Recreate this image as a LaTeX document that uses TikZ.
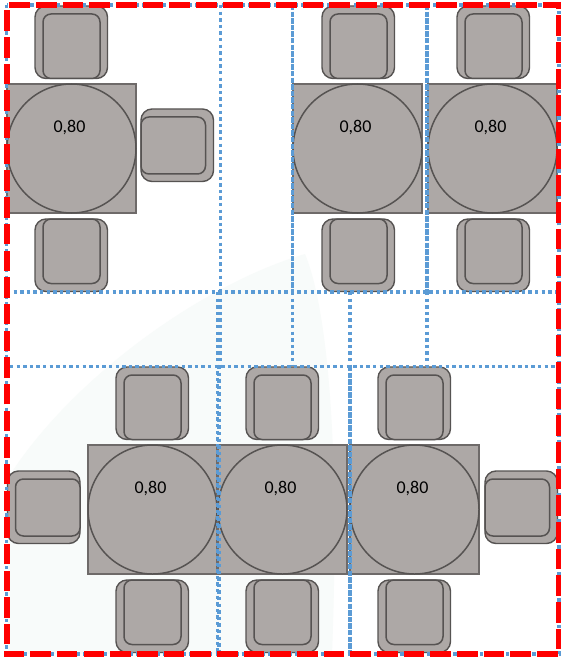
\documentclass[tikz,border=0pt]{standalone}
\usepackage{fontspec}
\setmainfont{Carlito}
\definecolor{furn}{HTML}{ADA8A6}
\definecolor{edge}{HTML}{565352}
\definecolor{tedge}{HTML}{6E6A69}
\definecolor{gridblue}{HTML}{5B9BD5}
\definecolor{wash}{HTML}{F8FBFA}
\tikzset{
  seat/.style={draw=edge,fill=furn,line width=1.4pt,rounded corners=11pt},
  cushion/.style={draw=edge,fill=furn,line width=1.5pt,rounded corners=8pt},
  tabletop/.style={draw=tedge,fill=furn,line width=1.1pt},
  roundtop/.style={draw=edge,fill=furn,line width=1.5pt},
  dim/.style={font=\fontsize{18}{20}\selectfont,text=black,inner sep=0pt},
  griddot/.style={draw=gridblue,line width=3.3pt,dash pattern=on 3.4pt off 3.2pt},
  gridheavy/.style={draw=gridblue,line width=3.3pt,dash pattern=on 5.4pt off 1.2pt},
  limit/.style={draw=red,line width=6.6pt,dash pattern=on 20.6pt off 6.07pt}
}
\newcommand{\chairT}[2]{%
  \draw[seat] (#1,#2) rectangle ++(72.5,72.5);
  \draw[cushion] (#1+8,#2+8) rectangle ++(57,64.5);}
\newcommand{\chairB}[2]{%
  \draw[seat] (#1,#2) rectangle ++(72.5,72.5);
  \draw[cushion] (#1+8,#2) rectangle ++(57,64.5);}
\newcommand{\chairR}[2]{%
  \draw[seat] (#1,#2) rectangle ++(72.5,72.5);
  \draw[cushion] (#1,#2+8) rectangle ++(64.5,57);}
\newcommand{\chairL}[2]{%
  \draw[seat] (#1,#2) rectangle ++(72.5,72.5);
  \draw[cushion] (#1+8,#2+8) rectangle ++(64.5,57);}
\newcommand{\tableat}[4]{% x, y, name, label x shift
  \draw[tabletop] (#1,#2) rectangle ++(129,129);
  \draw[roundtop] (#1+64.5,#2+64.5) circle[radius=64.5];
  \node[dim] (#3) at (#1+64.5+#4,#2+43.5) {0,80};}
\begin{document}
\begin{tikzpicture}[x=1pt,y=-1pt]
\useasboundingbox (0,0) rectangle (561,660);
\fill[white] (0,0) rectangle (561,660);
% faint wash
\fill[wash] (8,478) .. controls (70,380) and (200,285) .. (305,254)
  .. controls (328,310) and (340,450) .. (332,654) -- (8,654) -- cycle;
% upper furniture
\chairT{35}{6}\chairB{35}{219}\chairR{141}{109}
\tableat{7}{84}{lblA}{-2}
\chairT{322}{6}\chairB{322}{219}
\tableat{293}{84}{lblB}{-2}
\chairT{457}{6}\chairB{457}{219}
\tableat{428}{84}{lblC}{-2}
% lower furniture
\chairT{116}{367}\chairB{116}{580}
\chairT{246}{367}\chairB{246}{580}
\chairT{378}{367}\chairB{378}{580}
\chairL{7.5}{471}\chairR{485}{471}
\tableat{88}{445}{lblD}{-2}
\tableat{218}{445}{lblE}{-2}
\tableat{350}{445}{lblF}{-2}
% grid
\draw[griddot] (6.5,5) rectangle (559,654);
\draw[griddot] (220.5,5) -- (220.5,292);
\draw[griddot] (217.5,292) -- (217.5,655);
\draw[griddot] (220,292) -- (220,366);
\draw[griddot] (219,366) -- (219,655);
\draw[gridheavy] (292.7,5) -- (292.7,292);
\draw[griddot] (292.7,292) -- (292.7,366);
\draw[griddot] (350,292) -- (350,366);
\draw[gridheavy] (350,366) -- (350,655);
\draw[gridheavy] (427,5) -- (427,292);
\draw[griddot] (427,292) -- (427,366);
\draw[griddot] (7,292) -- (557,292);
\draw[griddot] (10,366.5) -- (557,366.5);
% red limit
\draw[limit] (9.3,5) -- (559,5) -- (559,654) -- (7,654) -- (7,5);
\end{tikzpicture}
\end{document}
